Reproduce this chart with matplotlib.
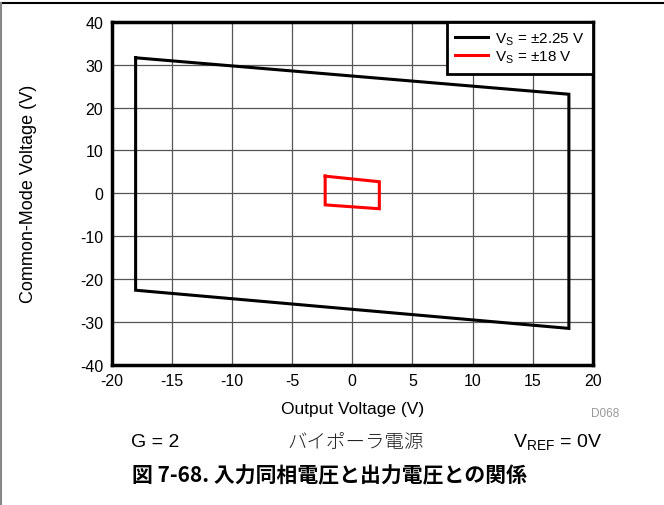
import matplotlib
matplotlib.use("Agg")
import matplotlib.pyplot as plt
from matplotlib.lines import Line2D

plt.rcParams['font.family'] = ['Liberation Sans', 'Noto Sans CJK JP', 'DejaVu Sans']
plt.rcParams['axes.unicode_minus'] = False

# Data (vertices of the closed operating regions)
black_x = [-18, 18, 18, -18, -18]
black_y = [31.6, 23.1, -31.5, -22.6, 31.6]
red_x = [-2.25, 2.25, 2.25, -2.25, -2.25]
red_y = [4.0, 2.7, -3.6, -2.7, 4.0]
series_labels = [r'V$_\mathregular{S}$ = ±2.25 V', r'V$_\mathregular{S}$ = ±18 V']
xticks = [-20, -15, -10, -5, 0, 5, 10, 15, 20]
yticks = [-40, -30, -20, -10, 0, 10, 20, 30, 40]

fig = plt.figure(figsize=(6.64, 5.06), dpi=100)
ax = fig.add_axes([0.168, 0.277, 0.725, 0.678])

ax.plot(black_x, black_y, color='black', lw=2.2, solid_joinstyle='miter', label=series_labels[0], zorder=3)
ax.plot(red_x, red_y, color='#ff0000', lw=2.2, solid_joinstyle='miter', label=series_labels[1], zorder=3)

ax.set_xlim(-20, 20)
ax.set_ylim(-40, 40)
ax.set_xticks(xticks)
ax.set_yticks(yticks)
ax.grid(True, color='#555555', lw=0.9)
ax.set_axisbelow(True)
for s in ax.spines.values():
    s.set_linewidth(2.5)
ax.tick_params(length=0, labelsize=11.5, pad=6)
ax.set_xlabel('Output Voltage (V)', fontsize=12.5)
ax.xaxis.set_label_coords(0.5, -0.105)
ax.set_ylabel('Common-Mode Voltage (V)', fontsize=13)
ax.yaxis.set_label_coords(-0.155, 0.5)

leg = ax.legend(loc='upper right', bbox_to_anchor=(1, 1), borderaxespad=0,
                fancybox=False, framealpha=1, fontsize=11, handlelength=2.15,
                labelspacing=0.1, borderpad=0.55, handletextpad=0.45)
leg.get_frame().set_edgecolor('black')
leg.get_frame().set_linewidth(2.0)

fig.text(0.911, 0.182, 'D068', fontsize=8.5, color='#999999', ha='center', va='center')

fig.text(0.233, 0.125, 'G = 2', fontsize=14, ha='center', va='center')
fig.text(0.535, 0.125, 'バイポーラ電源', fontsize=14, ha='center', va='center',
         family=['Noto Sans CJK JP'], color='#222222', fontweight='light')
fig.text(0.84, 0.125, r'V$_\mathregular{REF}$ = 0V', fontsize=14, ha='center', va='center')
fig.text(0.496, 0.059, '図 7-68. 入力同相電圧と出力電圧との関係', fontsize=15, ha='center', va='center',
         fontweight='bold', family=['Noto Sans CJK JP', 'DejaVu Sans'])

fig.add_artist(Line2D([0, 1], [1 - 4/506, 1 - 4/506], color='black', lw=1.5, transform=fig.transFigure))
fig.add_artist(Line2D([0.001, 0.001], [0, 1 - 4/506], color='#888888', lw=1.5, transform=fig.transFigure))

fig.savefig('out.png', dpi=100)
